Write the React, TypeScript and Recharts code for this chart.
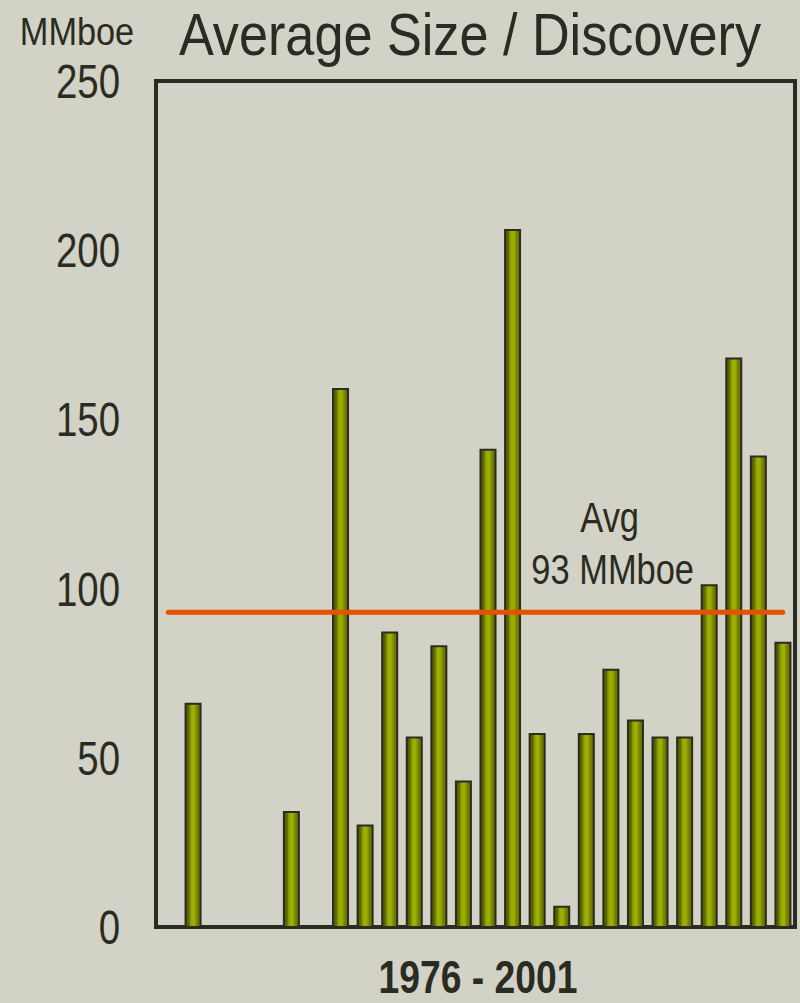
import React from 'react';
import { BarChart, Bar, XAxis, YAxis, ReferenceLine, ReferenceDot, ReferenceArea } from 'recharts';

const YEARS = [
  '1976', '1977', '1978', '1979', '1980', '1981', '1982', '1983', '1984',
  '1985', '1986', '1987', '1988', '1989', '1990', '1991', '1992', '1993',
  '1994', '1995', '1996', '1997', '1998', '1999', '2000', '2001',
];
// MMboe per discovery; null = no discovery that year
const AVG_SIZE: (number | null)[] = [
  null, 66, null, null, null, 34, null, 159, 30,
  87, 56, 83, 43, 141, 206, 57, 6, 57,
  76, 61, 56, 56, 101, 168, 139, 84,
];
const Y_TICKS = [0, 50, 100, 150, 200, 250];
const AVG_VALUE = 93;
const AVG_LABEL_YEAR = '1994';

const data = YEARS.map((year, i) => ({ year, size: AVG_SIZE[i] }));

const BG = '#d2d2c6';
const INK = '#2a2c22';
const FONT = "'Liberation Sans', Arial, sans-serif";

// Arial squeezed horizontally, close to Arial Narrow
function Narrow({ x, y, size, anchor = 'middle', sx = 0.82, bold = false, children }: any) {
  return (
    <text
      transform={`translate(${x},${y}) scale(${sx},1)`}
      x={0}
      y={0}
      textAnchor={anchor}
      fill={INK}
      fontFamily={FONT}
      fontSize={size}
      fontWeight={bold ? 'bold' : 'normal'}
    >
      {children}
    </text>
  );
}

function YTick({ x, y, payload }: any) {
  return (
    <Narrow x={x} y={y + 17} size={48} anchor="end" sx={0.8}>
      {payload.value}
    </Narrow>
  );
}

function AvgLabel({ viewBox }: any) {
  const { x, y } = viewBox;
  return (
    <g>
      <Narrow x={x} y={y - 79} size={42}>Avg</Narrow>
      <Narrow x={x + 3} y={y - 27} size={42}>{`${AVG_VALUE} MMboe`}</Narrow>
    </g>
  );
}

export default function App() {
  return (
    <div style={{ position: 'absolute', left: 0, top: 0, width: 800, height: 1003, background: BG }}>
      <BarChart
        width={800}
        height={1003}
        data={data}
        margin={{ top: 81, right: 5, bottom: 0, left: 0 }}
        barSize={15}
      >
        <defs>
          <linearGradient id="barGrad" x1="0" y1="0" x2="1" y2="0">
            <stop offset="0%" stopColor="#4e5700" />
            <stop offset="22%" stopColor="#5e6a00" />
            <stop offset="30%" stopColor="#80900a" />
            <stop offset="42%" stopColor="#9cae00" />
            <stop offset="60%" stopColor="#9cae00" />
            <stop offset="72%" stopColor="#7e8c00" />
            <stop offset="100%" stopColor="#5b6500" />
          </linearGradient>
        </defs>

        <Narrow x={470} y={55} size={60} sx={0.87}>Average Size / Discovery</Narrow>
        <Narrow x={77} y={45} size={39} sx={0.88}>MMboe</Narrow>
        <Narrow x={478} y={993} size={46} sx={0.81} bold>1976 - 2001</Narrow>

        <XAxis dataKey="year" height={76} tick={false} tickLine={false} axisLine={false} />
        <YAxis
          width={156}
          domain={[0, 250]}
          ticks={Y_TICKS}
          tickLine={false}
          tickSize={0}
          tickMargin={36}
          axisLine={false}
          tick={<YTick />}
        />

        <Bar
          dataKey="size"
          fill="url(#barGrad)"
          stroke={INK}
          strokeWidth={2}
          isAnimationActive={false}
        />

        {/* plot frame */}
        <ReferenceArea y1={0} y2={250} fill="none" stroke={INK} strokeWidth={4} />

        <ReferenceLine
          segment={[
            { x: YEARS[0], y: AVG_VALUE },
            { x: YEARS[YEARS.length - 1], y: AVG_VALUE },
          ]}
          stroke="#e65100"
          strokeWidth={5}
          strokeLinecap="round"
        />
        <ReferenceDot
          x={AVG_LABEL_YEAR}
          y={AVG_VALUE}
          r={1}
          fill="none"
          stroke="none"
          label={<AvgLabel />}
        />
      </BarChart>
    </div>
  );
}
